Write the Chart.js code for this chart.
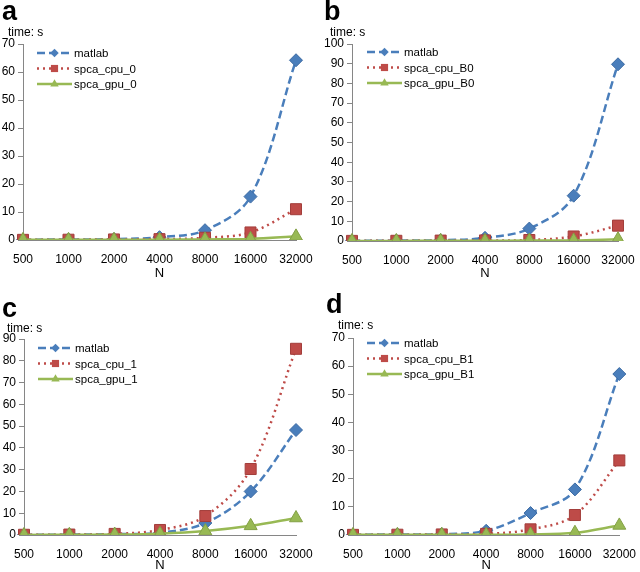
<!DOCTYPE html>
<html lang="en">
<head>
    <meta charset="UTF-8">
    <title>SPCA timing</title>
    <script src="https://cdn.jsdelivr.net/npm/chart.js"></script>
    <style>
        * { margin: 0; padding: 0; box-sizing: border-box; }
        body { width: 640px; height: 572px; background: #fff; position: relative; overflow: hidden;
               font-family: "Liberation Sans", Arial, sans-serif; }
        .panel { position: absolute; width: 320px; height: 286px; }
        .panel canvas { position: absolute; left: 0; top: 0; }
        .letter { position: absolute; font-weight: bold; font-size: 27px; line-height: 1; color: #000; }
        .unit { position: absolute; font-size: 12px; color: #000; }
    </style>
</head>
<body>

<div class="panel" style="left:0;top:0">
    <canvas id="chartA" width="320" height="286"></canvas>
    <div class="letter" style="left:2px;top:-2px">a</div>
    <div class="unit" style="left:8px;top:25px">time: s</div>
</div>
<div class="panel" style="left:320px;top:0">
    <canvas id="chartB" width="320" height="286"></canvas>
    <div class="letter" style="left:4px;top:-2px">b</div>
    <div class="unit" style="left:10px;top:25px">time: s</div>
</div>
<div class="panel" style="left:0;top:286px">
    <canvas id="chartC" width="320" height="286"></canvas>
    <div class="letter" style="left:2px;top:9px">c</div>
    <div class="unit" style="left:7px;top:35px">time: s</div>
</div>
<div class="panel" style="left:320px;top:286px">
    <canvas id="chartD" width="320" height="286"></canvas>
    <div class="letter" style="left:6px;top:5px">d</div>
    <div class="unit" style="left:18px;top:32px">time: s</div>
</div>

<script>
    // categories (N)
    const sizes = ['500', '1000', '2000', '4000', '8000', '16000', '32000'];

    // panel a
    const matlabA = [0.1, 0.2, 0.3, 1.0, 3.5, 15.5, 64.2];
    const cpuA    = [0.05, 0.1, 0.2, 0.3, 0.8, 2.7, 11.0];
    const gpuA    = [0.05, 0.05, 0.1, 0.1, 0.2, 0.4, 1.3];
    const ticksA  = [0, 10, 20, 30, 40, 50, 60, 70];

    // panel b
    const matlabB = [0.1, 0.2, 0.4, 1.6, 6.3, 23.0, 89.7];
    const cpuB    = [0.05, 0.1, 0.2, 0.3, 0.5, 2.3, 7.8];
    const gpuB    = [0.05, 0.05, 0.1, 0.1, 0.2, 0.3, 0.9];
    const ticksB  = [0, 10, 20, 30, 40, 50, 60, 70, 80, 90, 100];

    // panel c
    const matlabC = [0.1, 0.2, 0.4, 1.0, 5.5, 20.0, 48.2];
    const cpuC    = [0.1, 0.2, 0.5, 2.3, 8.7, 30.3, 85.5];
    const gpuC    = [0.05, 0.1, 0.2, 0.6, 1.8, 4.2, 7.8];
    const ticksC  = [0, 10, 20, 30, 40, 50, 60, 70, 80, 90];

    // panel d
    const matlabD = [0.1, 0.2, 0.3, 1.5, 7.8, 16.2, 57.2];
    const cpuD    = [0.05, 0.1, 0.2, 0.4, 2.0, 7.1, 26.5];
    const gpuD    = [0.05, 0.05, 0.1, 0.1, 0.2, 0.8, 3.4];
    const ticksD  = [0, 10, 20, 30, 40, 50, 60, 70];

    const BLUE = '#4a7ebb', BLUE_EDGE = '#3d6ba3';
    const RED = '#be4b48', RED_EDGE = '#a33e3b';
    const GREEN = '#98b954', GREEN_EDGE = '#83a046';
    const FONT = { family: '"Liberation Sans", Arial, sans-serif', size: 12 };

    // legend drawn inside the plot area: line + marker + text
    const insideLegend = {
        id: 'insideLegend',
        afterDraw(chart, args, opts) {
            const ctx = chart.ctx;
            const area = chart.chartArea;
            const x0 = area.left + opts.dx;
            const lineLen = 35;
            ctx.save();
            chart.data.datasets.forEach((ds, i) => {
                const y = area.top + opts.dy + i * 15.5;
                ctx.strokeStyle = ds.borderColor;
                ctx.lineWidth = ds.borderWidth;
                ctx.setLineDash(ds.borderDash || []);
                ctx.beginPath();
                ctx.moveTo(x0, y);
                ctx.lineTo(x0 + lineLen, y);
                ctx.stroke();
                ctx.setLineDash([]);
                ctx.fillStyle = ds.backgroundColor;
                Chart.helpers.drawPoint(ctx, {
                    pointStyle: ds.pointStyle,
                    radius: ds.pointRadius * 0.65,
                    borderWidth: 0
                }, x0 + lineLen / 2, y);
                ctx.fillStyle = '#000';
                ctx.font = '11.5px "Liberation Sans", Arial, sans-serif';
                ctx.textBaseline = 'middle';
                ctx.fillText(ds.label, x0 + lineLen + 2, y + 1);
            });
            ctx.restore();
        }
    };

    function makeChart(id, names, matlab, cpu, gpu, yTicks, box) {
        const ctx = document.getElementById(id).getContext('2d');
        return new Chart(ctx, {
            type: 'line',
            data: {
                labels: sizes,
                datasets: [{
                    label: names[0],
                    data: matlab,
                    borderColor: BLUE,
                    backgroundColor: BLUE,
                    pointBorderColor: BLUE_EDGE,
                    borderWidth: 2.5,
                    borderDash: [8, 4],
                    pointStyle: 'rectRot',
                    pointRadius: 6.5,
                    pointBorderWidth: 1,
                    tension: 0.35,
                    order: 3
                }, {
                    label: names[1],
                    data: cpu,
                    borderColor: RED,
                    backgroundColor: RED,
                    pointBorderColor: RED_EDGE,
                    borderWidth: 2.5,
                    borderDash: [2, 4],
                    pointStyle: 'rect',
                    pointRadius: 7.8,
                    pointBorderWidth: 1,
                    tension: 0.35,
                    order: 2
                }, {
                    label: names[2],
                    data: gpu,
                    borderColor: GREEN,
                    backgroundColor: GREEN,
                    pointBorderColor: GREEN_EDGE,
                    borderWidth: 2.5,
                    pointStyle: 'triangle',
                    pointRadius: 7.5,
                    pointBorderWidth: 1,
                    tension: 0.35,
                    order: 1
                }]
            },
            options: {
                responsive: false,
                animation: false,
                layout: { padding: { top: box.top, right: box.right, left: 0, bottom: 0 } },
                plugins: {
                    legend: { display: false },
                    tooltip: { enabled: false },
                    insideLegend: { dx: box.lx, dy: box.ly }
                },
                scales: {
                    x: {
                        offset: false,
                        grid: { display: false },
                        border: { color: '#868686', width: 1 },
                        ticks: { color: '#000', font: FONT, padding: 4, maxRotation: 0, autoSkip: false },
                        title: {
                            display: true, text: 'N', color: '#000',
                            font: { ...FONT, size: 13, lineHeight: 1 },
                            padding: { top: 0, bottom: box.tb }
                        },
                        afterFit(scale) { scale.height = box.xh; }
                    },
                    y: {
                        min: yTicks[0],
                        max: yTicks[yTicks.length - 1],
                        afterBuildTicks(scale) { scale.ticks = yTicks.map(v => ({ value: v })); },
                        grid: { drawOnChartArea: false, drawTicks: true, tickLength: 5, color: '#868686' },
                        border: { color: '#868686', width: 1 },
                        ticks: { color: '#000', font: FONT, padding: 3 },
                        afterFit(scale) { scale.width = box.left; }
                    }
                }
            },
            plugins: [insideLegend]
        });
    }

    makeChart('chartA', ['matlab', 'spca_cpu_0', 'spca_gpu_0'], matlabA, cpuA, gpuA, ticksA,
        { left: 23, top: 44, right: 24, xh: 46, tb: 6, lx: 14, ly: 9 });
    makeChart('chartB', ['matlab', 'spca_cpu_B0', 'spca_gpu_B0'], matlabB, cpuB, gpuB, ticksB,
        { left: 32, top: 44, right: 22, xh: 45, tb: 6, lx: 15, ly: 8 });
    makeChart('chartC', ['matlab', 'spca_cpu_1', 'spca_gpu_1'], matlabC, cpuC, gpuC, ticksC,
        { left: 24, top: 53, right: 24, xh: 37, tb: 0, lx: 14, ly: 9 });
    makeChart('chartD', ['matlab', 'spca_cpu_B1', 'spca_gpu_B1'], matlabD, cpuD, gpuD, ticksD,
        { left: 33, top: 52, right: 16, xh: 37, tb: 0, lx: 14, ly: 5 });
</script>
</body>
</html>
